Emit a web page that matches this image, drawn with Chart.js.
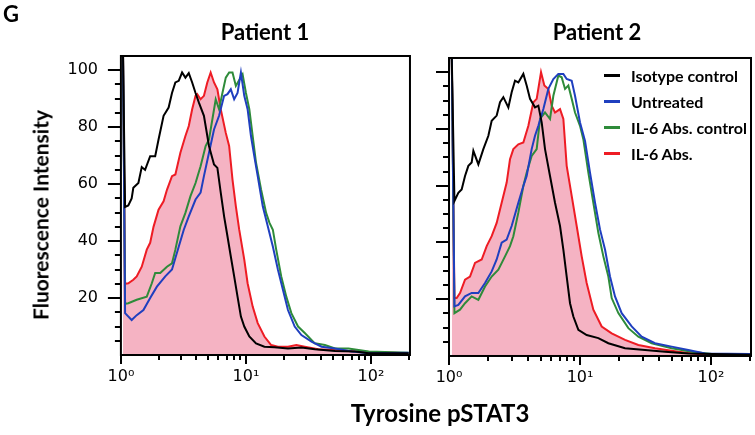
<!DOCTYPE html>
<html>
<head>
<meta charset="utf-8">
<script src="https://cdn.jsdelivr.net/npm/chart.js@4"></script>
<style>
  body { margin: 0; background: #fff; }
  #wrap { position: relative; width: 755px; height: 435px; background: #fff; font-family: Lato, "Open Sans", sans-serif; font-weight: bold; color: #000; }
  #row { display: flex; width: 755px; height: 435px; }
  .txt { position: absolute; white-space: nowrap; }
  #legend { position: absolute; left: 604px; top: 63px; font-size: 16px; }
  #legend .row { height: 25.8px; display: flex; align-items: center; }
  #legend .mark { width: 16px; height: 3px; margin-right: 11px; }
</style>
</head>
<body>
<div id="wrap">
  <div id="row">
    <canvas id="p1" width="420" height="435"></canvas>
    <canvas id="p2" width="335" height="435"></canvas>
  </div>
  <div class="txt" style="left:3px;top:0px;font-size:22px">G</div>
  <div class="txt" style="left:265px;top:18px;font-size:22px;transform:translateX(-50%)">Patient 1</div>
  <div class="txt" style="left:597px;top:18px;font-size:22px;transform:translateX(-50%)">Patient 2</div>
  <div class="txt" style="left:40px;top:215px;font-size:21px;transform:translate(-50%,-50%) rotate(-90deg)">Fluorescence Intensity</div>
  <div class="txt" style="left:440px;top:398px;font-size:24px;transform:translateX(-50%)">Tyrosine pSTAT3</div>
  <div id="legend"></div>
</div>
<script>
var seriesNames = ['Isotype control', 'Untreated', 'IL-6 Abs. control', 'IL-6 Abs.'];
var seriesColors = ['#000000', '#1f3fbf', '#2e8b3a', '#ee1c24'];
var decadeLabels = ['10\u2070', '10\u00b9', '10\u00b2'];

// Patient 1: [fluorescence, % of max]  (first point = off-scale count at the low edge)
var p1Isotype = [[1.04,105],[1.08,52],[1.146,52.5],[1.219,55],[1.257,58.7],[1.38,60.4],[1.468,66],[1.561,65],[1.714,69.8],[1.88,69.8],[2.0,75.7],[2.194,84],[2.408,86.9],[2.562,92],[2.726,95.7],[2.9,96.3],[3.085,99.2],[3.28,97.4],[3.49,99],[3.715,95.7],[3.953,92],[4.205,88.6],[4.613,84],[5.063,73.4],[5.555,66.9],[5.91,65.7],[6.287,57],[6.688,48.7],[7.115,41.7],[7.568,34.6],[8.051,27.6],[8.566,20.5],[9.114,13.5],[9.696,10],[10.64,6.5],[12.04,4.1],[14.05,2.9],[16.93,2.7],[21.68,2.3],[27.77,2.6],[35.56,2],[51.57,1.4],[74.76,1.2],[95.8,0.6],[200,0.6]];
var p1Untreated = [[1.04,105],[1.08,14.7],[1.219,12.3],[1.338,14],[1.514,15.8],[1.714,20],[1.94,24],[2.264,27.6],[2.562,30],[2.9,38],[3.183,44],[3.49,48.7],[3.953,54.6],[4.337,57],[4.613,62.8],[5.063,71],[5.555,79.2],[6.095,84],[6.688,91],[7.115,91.6],[7.568,93.3],[8.051,89.8],[8.566,92],[9.114,99.2],[9.696,91],[10.31,86.3],[10.97,76.9],[11.67,69.8],[12.42,62.8],[13.63,52.2],[14.95,45.2],[16.41,38.1],[18.01,30],[19.76,22.9],[21.68,15.8],[24.54,10],[27.77,7],[33.43,4.7],[40.25,2.9],[51.57,2.3],[70.28,1.2],[95.8,0.6],[200,0.8]];
var p1Control = [[1.04,105],[1.08,18],[1.146,18.2],[1.338,19.4],[1.61,20.5],[1.767,25.2],[1.88,28.8],[2.063,28.8],[2.335,31],[2.562,32.2],[2.726,37],[2.99,45.2],[3.28,49.9],[3.6,55.8],[3.953,60.4],[4.337,66.3],[4.759,73.4],[5.063,75.7],[5.386,82.7],[5.731,89.8],[6.095,86.3],[6.484,92],[6.898,97.4],[7.338,99.2],[7.806,99.2],[8.305,94.5],[8.835,96.6],[9.4,98.6],[10,92],[10.64,86.3],[11.32,76.9],[12.04,67.5],[13.21,58.1],[14.5,49.9],[15.43,46.4],[16.41,44],[17.46,37],[19.16,27.6],[21.02,20.5],[23.07,14.7],[26.11,10],[29.54,7.7],[35.56,4.1],[42.82,3.5],[51.57,2.3],[66.07,2.3],[95.8,1.2],[200,0.8]];
var p1IL6 = [[1.04,105],[1.08,25],[1.146,25.2],[1.257,26.4],[1.338,27.6],[1.468,31],[1.61,37],[1.714,39.4],[1.823,45],[2.0,51],[2.194,54],[2.335,58],[2.562,62.8],[2.726,63.4],[2.99,71],[3.28,76.9],[3.49,80.4],[3.715,86.3],[3.953,91],[4.076,91.6],[4.337,89.8],[4.613,91],[4.909,95.7],[5.222,99.2],[5.555,95.7],[5.91,93.3],[6.287,86.3],[6.898,78],[7.338,73.4],[7.806,61.6],[8.305,52.2],[8.835,44],[9.696,33.5],[10.31,25.2],[11.32,17],[12.42,11.2],[14.05,6.5],[15.91,3.5],[18.01,2.9],[21.68,2.9],[25.31,3.5],[29.54,2.9],[37.83,2],[51.57,1.8],[74.76,1.2],[200,0.6]];

// Patient 2
var p2Isotype = [[1.05,105],[1.1,54.6],[1.178,57.5],[1.249,58.7],[1.325,63.4],[1.405,67],[1.489,68.2],[1.534,72.3],[1.675,67.5],[1.828,72.9],[1.997,77.6],[2.117,82.9],[2.311,84.7],[2.451,89.4],[2.599,91.2],[2.838,87.6],[3.008,92.9],[3.19,97],[3.382,96.4],[3.693,99.4],[3.915,95.3],[4.152,90.6],[4.534,87.6],[4.808,88.2],[5.098,82.3],[5.406,72.9],[5.902,63.4],[6.445,54],[7.037,45.8],[7.462,37.5],[7.912,28],[8.389,18.6],[8.895,13.9],[9.712,9.2],[11.24,7.4],[13.8,6.3],[16.46,4.5],[22.06,2.7],[31.35,2.1],[44.56,1.5],[67.1,0.9],[200,0.4]];
var p2Untreated = [[1.05,105],[1.1,17.5],[1.178,18],[1.325,21],[1.489,22.2],[1.675,22.2],[1.883,25.7],[2.117,29.8],[2.311,34],[2.523,39.9],[2.755,41],[3.008,45.8],[3.382,54],[3.693,59.9],[3.915,63.4],[4.276,72.9],[4.534,77.6],[4.808,81.1],[5.251,87],[5.732,94.1],[6.259,97.6],[6.834,99.4],[7.462,99.4],[7.912,97.6],[8.64,97],[9.159,91.7],[10,82.3],[10.92,75.8],[11.92,64.6],[13.02,54],[14.21,44.6],[15.52,37.5],[16.94,28],[18.5,21],[20.8,15.1],[24.8,10.4],[29.56,6.8],[37.37,4.5],[50.09,3.3],[67.1,2.1],[89.99,0.9],[200,0.7]];
var p2Control = [[1.05,105],[1.1,15.1],[1.213,16.3],[1.325,18.6],[1.489,21],[1.675,19.8],[1.883,24.5],[2.117,28],[2.38,30.4],[2.676,35.1],[2.921,38.7],[3.098,42.2],[3.382,50.5],[3.693,59.9],[3.915,64.6],[4.276,70.5],[4.669,72.9],[4.952,83.5],[5.406,85.8],[5.902,83.5],[6.259,91.7],[6.834,98.8],[7.244,98.2],[7.683,94.1],[8.146,95.3],[8.64,90.6],[9.159,85.8],[10,81.1],[10.6,76.4],[11.58,64.6],[12.64,54],[13.8,43.4],[15.07,35.1],[16.46,28],[17.45,20.4],[19.62,15.1],[23.39,9.8],[27.88,6.8],[35.25,4.5],[50.09,2.7],[71.18,1.5],[101.2,0.7],[200,0.4]];
var p2IL6 = [[1.05,105],[1.1,20.4],[1.144,20.4],[1.213,22.2],[1.325,26.9],[1.446,28],[1.579,32.8],[1.776,34],[1.939,38.7],[2.117,42.2],[2.311,46.9],[2.523,54],[2.755,61.1],[2.921,69.3],[3.098,72.9],[3.382,74.6],[3.693,75.2],[4.034,81.1],[4.404,89.4],[4.669,90.6],[5.039,100],[5.343,95.3],[5.732,94.1],[6.077,88.2],[6.445,85.8],[7.037,87],[7.462,83.5],[7.912,67],[8.64,56.4],[9.432,45.8],[10.3,35.1],[11.24,25.7],[12.64,16.3],[14.64,10.4],[17.45,8],[22.06,5.7],[27.88,3.9],[37.37,2.7],[56.32,1.5],[80.05,0.7],[120.6,0.2],[200,0.2]];

// the plot box spans x 1..boxMax and y 0..105; the chart area is a little larger
// so the outward tick marks fall inside it
var framePlugin = {
  id: 'frame',
  afterDraw: function (chart, args, o) {
    var ctx = chart.ctx;
    var xs = chart.scales.x, ys = chart.scales.y;
    var L = xs.getPixelForValue(1), R = xs.getPixelForValue(o.boxMax);
    var T = ys.getPixelForValue(105), B = ys.getPixelForValue(0);
    ctx.save();
    ctx.strokeStyle = '#000';
    ctx.lineWidth = 2;
    ctx.beginPath();
    ys.ticks.forEach(function (t) {
      if (t.value < 0 || t.value > 100) return;
      var py = Math.round(ys.getPixelForValue(t.value));
      var len = t.value % 20 === 0 ? 13 : 6;
      ctx.moveTo(L - len, py);
      ctx.lineTo(L, py);
    });
    xs.ticks.forEach(function (t) {
      if (t.value < 1 - 1e-9 || t.value > o.boxMax) return;
      var e = Math.floor(Math.log10(t.value) + 1e-9);
      var m = t.value / Math.pow(10, e);
      if (Math.abs(m - Math.round(m)) > 1e-6) return;
      var px = Math.round(xs.getPixelForValue(t.value));
      var len = Math.round(m) === 1 ? 9 : 5;
      ctx.moveTo(px, B);
      ctx.lineTo(px, B + len);
    });
    ctx.stroke();
    ctx.strokeRect(L, T, R - L, B - T);
    ctx.restore();
  }
};

function makeDatasets(iso, untr, ctrl, il6) {
  var sets = [iso, untr, ctrl, il6];
  return sets.map(function (s, i) {
    return {
      label: seriesNames[i],
      data: s.map(function (p) { return { x: p[0], y: p[1] }; }),
      borderColor: seriesColors[i],
      borderWidth: 2,
      pointRadius: 0,
      tension: 0,
      fill: i === 3 ? 'origin' : false,
      backgroundColor: i === 3 ? '#f5b3c3' : 'transparent'
    };
  });
}

function makeChart(id, datasets, opts) {
  return new Chart(document.getElementById(id), {
    type: 'line',
    data: { datasets: datasets },
    options: {
      responsive: false,
      animation: false,
      layout: { padding: { left: 0, top: opts.top, right: opts.right, bottom: 0 } },
      plugins: {
        legend: { display: false },
        tooltip: { enabled: false },
        frame: { boxMax: opts.boxMax }
      },
      scales: {
        x: {
          type: 'logarithmic',
          min: opts.xMin,
          max: opts.xMax,
          grid: { display: false, drawTicks: false },
          border: { display: false },
          afterFit: function (s) { s.height = opts.xHeight; },
          ticks: {
            autoSkip: false,
            maxRotation: 0,
            padding: 1,
            color: '#000',
            font: { family: 'DejaVu Sans', size: 16 },
            callback: function (v) {
              var e = Math.log10(v);
              if (e > -1e-9 && Math.abs(e - Math.round(e)) < 1e-9) return decadeLabels[Math.round(e)];
              return '';
            }
          }
        },
        y: {
          min: opts.yMin,
          max: opts.yMax,
          grid: { display: false, drawTicks: false },
          border: { display: false },
          afterFit: function (s) { s.width = opts.yWidth; },
          ticks: {
            stepSize: 5,
            autoSkip: false,
            display: opts.yLabels,
            padding: 8,
            color: '#000',
            font: { family: 'DejaVu Sans', size: 16 },
            callback: function (v) { return (v >= 0 && v % 20 === 0 && v <= 100) ? v : ''; }
          }
        }
      }
    },
    plugins: [framePlugin]
  });
}

makeChart('p1', makeDatasets(p1Isotype, p1Untreated, p1Control, p1IL6),
  { top: 54, right: 8, xMin: 0.76, xMax: 212.8, boxMax: 205, yMin: -3.86, yMax: 105.7,
    xHeight: 69, yWidth: 106, yLabels: true });
makeChart('p2', makeDatasets(p2Isotype, p2Untreated, p2Control, p2IL6),
  { top: 56, right: 2, xMin: 0.768, xMax: 209.2, boxMax: 202, yMin: -3.88, yMax: 105.7,
    xHeight: 68, yWidth: 14, yLabels: false });

var legend = document.getElementById('legend');
seriesNames.forEach(function (name, i) {
  var row = document.createElement('div');
  row.className = 'row';
  var mark = document.createElement('span');
  mark.className = 'mark';
  mark.style.background = seriesColors[i];
  var label = document.createElement('span');
  label.textContent = name;
  row.appendChild(mark);
  row.appendChild(label);
  legend.appendChild(row);
});
</script>
</body>
</html>
